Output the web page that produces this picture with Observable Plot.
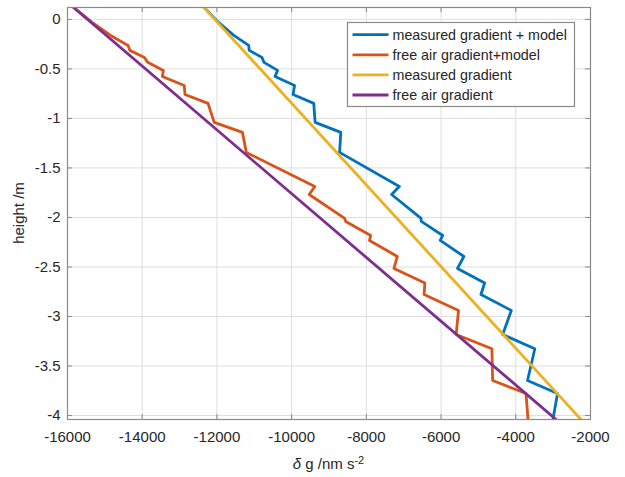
<!DOCTYPE html>
<html>
<head>
<meta charset="utf-8">
<script src="https://cdn.jsdelivr.net/npm/d3@7"></script>
<script src="https://cdn.jsdelivr.net/npm/@observablehq/plot@0.6"></script>
<style>
  html, body { margin: 0; padding: 0; background: #fff; }
  #chart { width: 625px; height: 477px; }
</style>
</head>
<body>
<div id="chart"></div>
<script>
// ---- data ----
const xTicks = [-16000, -14000, -12000, -10000, -8000, -6000, -4000, -2000];
const yTicks = [0, -0.5, -1, -1.5, -2, -2.5, -3, -3.5, -4];

// straight gradients (height in m, delta g in nm/s^2)
const lineHeights = [0.15, -4.1];
const measuredValues = [-12420, -2109];
const freeAirValues = [-15929, -2735];

// gradients + model (zig-zag)
const modelHeights = [0.15, -0.030, -0.162, -0.263, -0.313, -0.384, -0.434, -0.515, -0.576, -0.667, -0.758, -0.848,
  -1.040, -1.141, -1.343, -1.687, -1.768, -2.010, -2.040, -2.182, -2.232, -2.394, -2.515, -2.662, -2.778, -2.939,
  -3.182, -3.326, -3.646, -3.778, -4.020, -4.1];
const measuredModelValues = [-12420, -11956, -11548, -11149, -11136, -10794, -10740, -10377, -10444, -9922, -9962, -9408,
  -9372, -8684, -8717, -7117, -7324, -6536, -6530, -5956, -6023, -5389, -5560, -4833, -4933, -4120,
  -4350, -3490, -3686, -2883, -2996, -3036];
const freeAirModelValues = [-15929, -15343, -14845, -14378, -14330, -13941, -13853, -13434, -13460, -12876, -12855, -12239,
  -12073, -11317, -11213, -9380, -9531, -8579, -8553, -7883, -7916, -7172, -7260, -6434, -6455, -5533,
  -5597, -4640, -4619, -3726, -3676, -3661];

const seriesNames = ["measured gradient + model", "free air gradient+model", "measured gradient", "free air gradient"];
const seriesColors = ["#0072BD", "#D95319", "#EDB120", "#7E2F8E"];

// ---- tables built from the arrays ----
const toRows = (hs, vs) => hs.map((h, i) => ({h, v: vs[i]}));
const series = [
  toRows(modelHeights, measuredModelValues),
  toRows(modelHeights, freeAirModelValues),
  toRows(lineHeights, measuredValues),
  toRows(lineHeights, freeAirValues)
];

const W = 625, H = 477;
const mL = 67, mR = 35, mT = 7, mB = 58;
const fw = W - mL - mR, fh = H - mT - mB;
const tickLen = 5;
const axisColor = "#8a8a8a";
const fmt = d => String(d);
const lw = 2.8;

const chart = Plot.plot({
  width: W,
  height: H,
  marginLeft: mL,
  marginRight: mR,
  marginTop: mT,
  marginBottom: mB,
  style: {fontFamily: "'Liberation Sans', Arial, sans-serif", fontSize: "15px", color: "#262626", background: "#fff"},
  x: {domain: [-16000, -2000]},
  y: {domain: [-4.04, 0.12]},
  marks: [
    Plot.gridX(xTicks, {stroke: "#dedede", strokeOpacity: 1}),
    Plot.gridY(yTicks, {stroke: "#dedede", strokeOpacity: 1}),
    ...series.map((rows, i) => Plot.line(rows, {x: "v", y: "h", stroke: seriesColors[i], strokeWidth: lw, clip: true})),
    Plot.tickY(yTicks, {y: d => d, insetRight: fw - tickLen, stroke: axisColor}),
    Plot.tickY(yTicks, {y: d => d, insetLeft: fw - tickLen, stroke: axisColor}),
    Plot.tickX(xTicks, {x: d => d, insetTop: fh - tickLen, stroke: axisColor}),
    Plot.tickX(xTicks, {x: d => d, insetBottom: fh - tickLen, stroke: axisColor}),
    Plot.frame({stroke: axisColor, strokeWidth: 1.2}),
    Plot.axisX(xTicks, {tickSize: 0, tickPadding: 12, tickFormat: fmt, label: null, fill: "#262626"}),
    Plot.axisY(yTicks, {tickSize: 0, tickPadding: 7, tickFormat: fmt, label: null, fill: "#262626"})
  ]
});

document.getElementById("chart").appendChild(chart);

// ---- legend, axis titles ----
const svg = d3.select(chart);
const lg = svg.append("g").attr("transform", "translate(347.5,22.5)")
  .attr("text-anchor", "start")
  .style("font-family", "'Liberation Sans', Arial, sans-serif").style("font-size", "14.3px");
lg.append("rect").attr("width", 227).attr("height", 84).attr("fill", "#fff").attr("stroke", axisColor).attr("stroke-width", 1.2);
seriesNames.forEach((name, i) => {
  const y = 12.2 + i * 20.1;
  lg.append("line").attr("x1", 5).attr("x2", 41).attr("y1", y).attr("y2", y)
    .attr("stroke", seriesColors[i]).attr("stroke-width", lw);
  lg.append("text").attr("x", 45).attr("y", y).attr("dy", "0.35em")
    .attr("text-anchor", "start").attr("fill", "#262626").text(name);
});

svg.append("text")
  .attr("transform", `translate(19,${mT + fh / 2}) rotate(-90)`)
  .attr("text-anchor", "middle")
  .attr("dy", "0.35em")
  .style("font-family", "'Liberation Sans', Arial, sans-serif").style("font-size", "15px")
  .attr("fill", "#262626")
  .text("height /m");

const xl = svg.append("text")
  .attr("x", mL + fw / 2)
  .attr("y", 469)
  .attr("text-anchor", "middle")
  .style("font-family", "'Liberation Sans', Arial, sans-serif").style("font-size", "15px")
  .attr("fill", "#262626");
xl.append("tspan").attr("font-style", "italic").text("δ");
xl.append("tspan").text(" g /nm s");
xl.append("tspan").attr("dy", "-0.5em").style("font-size", "11px").text("-2");
</script>
</body>
</html>
